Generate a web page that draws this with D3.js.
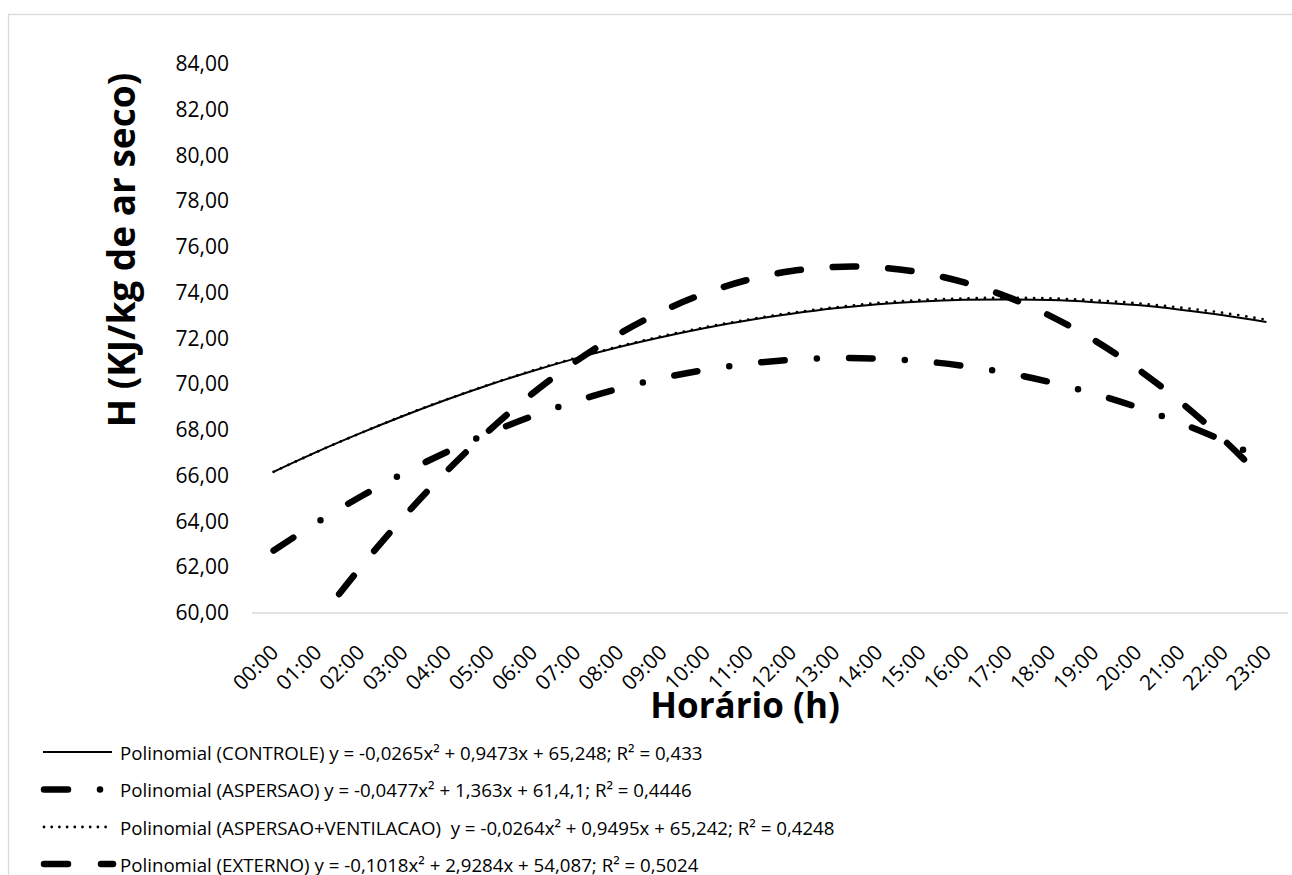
<!DOCTYPE html>
<html>
<head>
<meta charset="utf-8">
<script src="https://cdn.jsdelivr.net/npm/d3@7"></script>
<style>
  html, body { margin: 0; padding: 0; background: #fff; }
  svg { display: block; }
  text { font-family: "Open Sans", sans-serif; fill: #000; }
</style>
</head>
<body>
<svg id="chart" width="1292" height="875"></svg>
<script>
// ---- Data ----
const hours = ["00:00","01:00","02:00","03:00","04:00","05:00","06:00","07:00","08:00","09:00","10:00","11:00",
               "12:00","13:00","14:00","15:00","16:00","17:00","18:00","19:00","20:00","21:00","22:00","23:00"];
const yTicks = [60,62,64,66,68,70,72,74,76,78,80,82,84];

const controle = [66.17,67.04,67.85,68.61,69.32,69.98,70.58,71.13,71.63,72.07,72.46,72.80,
                  73.08,73.32,73.50,73.62,73.69,73.71,73.68,73.59,73.46,73.26,73.02,72.72];
const aspersao = [62.73,63.95,65.07,66.10,67.03,67.87,68.61,69.26,69.81,70.27,70.63,70.90,
                  71.07,71.14,71.12,71.01,70.80,70.49,70.09,69.59,69.00,68.31,67.53,66.65];
const aspersaoVentilacao = [66.17,67.04,67.85,68.62,69.33,69.99,70.60,71.15,71.65,72.10,72.49,72.83,
                  73.12,73.36,73.55,73.68,73.75,73.78,73.75,73.67,73.54,73.35,73.12,72.82];
const externo = [56.91,59.54,61.96,64.17,66.18,67.99,69.60,71.00,72.20,73.19,73.98,74.57,
                 74.95,75.13,75.11,74.88,74.45,73.82,72.98,71.94,70.69,69.24,67.59,65.73];

const legendLabels = [
  "Polinomial (CONTROLE) y = -0,0265x\u00B2 + 0,9473x + 65,248; R\u00B2 = 0,433",
  "Polinomial (ASPERSAO) y = -0,0477x\u00B2 + 1,363x + 61,4,1; R\u00B2 = 0,4446",
  "Polinomial (ASPERSAO+VENTILACAO)  y = -0,0264x\u00B2 + 0,9495x + 65,242; R\u00B2 = 0,4248",
  "Polinomial (EXTERNO) y = -0,1018x\u00B2 + 2,9284x + 54,087; R\u00B2 = 0,5024"
];

// ---- Styles ----
const styles = [
  { data: controle, width: 2, dash: null, cap: "butt" },
  { data: aspersao, width: 6.5, dash: "23.5 32.25 0 32.25", cap: "round" },
  { data: aspersaoVentilacao, width: 2.8, dash: "0 8.2", cap: "round" },
  { data: externo, width: 6.5, dash: "23.5 32", cap: "round" }
];

const svg = d3.select("#chart");
const plot = { left: 252, right: 1288, top: 40, bottom: 613 };

// chart border
svg.append("rect").attr("x", 8.5).attr("y", 14.5).attr("width", 1300).attr("height", 900)
  .attr("fill", "#fff").attr("stroke", "#d9d9d9").attr("stroke-width", 1.3);

const x = d3.scalePoint().domain(hours).range([plot.left, plot.right]).padding(0.5);
const y = d3.scaleLinear().domain([60, 84]).range([613, 64]);

// clip
svg.append("clipPath").attr("id", "plotclip").append("rect")
  .attr("x", plot.left).attr("y", 0).attr("width", plot.right - plot.left).attr("height", plot.bottom);

// Y axis labels
const yAxis = d3.axisLeft(y).tickValues(yTicks).tickSize(0).tickPadding(0)
  .tickFormat(d => d3.format(".2f")(d).replace(".", ","));
const gy = svg.append("g").attr("transform", "translate(229,0)").call(yAxis);
gy.select(".domain").remove();
gy.selectAll("text").attr("font-family", "Open Sans, sans-serif").attr("font-size", 21).attr("fill", "#000");

// X axis
const xAxis = d3.axisBottom(x).tickSize(0).tickPadding(0);
const gx = svg.append("g").attr("transform", `translate(0,${plot.bottom})`).call(xAxis);
gx.select(".domain").attr("stroke", "#d9d9d9").attr("stroke-width", 1.5)
  .attr("d", `M${plot.left},0H${plot.right}`);
gx.selectAll("text")
  .attr("font-family", "Open Sans, sans-serif").attr("font-size", 21).attr("fill", "#000")
  .attr("text-anchor", "end").attr("dy", null).attr("y", 0)
  .attr("dominant-baseline", "central")
  .attr("transform", "translate(0,35) rotate(-45)");

// Lines
const line = d3.line().x((d, i) => x(hours[i])).y(d => y(d)).curve(d3.curveNatural);
const g = svg.append("g").attr("clip-path", "url(#plotclip)");
styles.forEach(s => {
  g.append("path").datum(s.data).attr("d", line)
    .attr("fill", "none").attr("stroke", "#000")
    .attr("stroke-width", s.width)
    .attr("stroke-dasharray", s.dash)
    .attr("stroke-linecap", s.cap);
});

// Axis titles
svg.append("text").attr("transform", "translate(135,250) rotate(-90)")
  .attr("text-anchor", "middle").attr("font-weight", "bold").attr("font-size", 37)
  .text("H (KJ/kg de ar seco)");
svg.append("text").attr("x", 745).attr("y", 718)
  .attr("text-anchor", "middle").attr("font-weight", "bold").attr("font-size", 35)
  .text("Horário (h)");

// Legend
const legY = [752, 789.5, 827, 864];
const lg = svg.append("g");
styles.forEach((s, i) => {
  const yy = legY[i];
  if (i === 0) {
    lg.append("line").attr("x1", 43).attr("x2", 112).attr("y1", yy).attr("y2", yy)
      .attr("stroke", "#000").attr("stroke-width", 2);
  } else if (i === 1) {
    lg.append("line").attr("x1", 44).attr("x2", 68).attr("y1", yy).attr("y2", yy)
      .attr("stroke", "#000").attr("stroke-width", 6.5).attr("stroke-linecap", "round");
    lg.append("circle").attr("cx", 100).attr("cy", yy).attr("r", 3.25).attr("fill", "#000");
  } else if (i === 2) {
    lg.append("line").attr("x1", 44).attr("x2", 112).attr("y1", yy).attr("y2", yy)
      .attr("stroke", "#000").attr("stroke-width", 2.8).attr("stroke-dasharray", "0 7.7")
      .attr("stroke-linecap", "round");
  } else {
    lg.append("line").attr("x1", 44).attr("x2", 68).attr("y1", yy).attr("y2", yy)
      .attr("stroke", "#000").attr("stroke-width", 6.5).attr("stroke-linecap", "round");
    lg.append("line").attr("x1", 101).attr("x2", 113).attr("y1", yy).attr("y2", yy)
      .attr("stroke", "#000").attr("stroke-width", 6.5).attr("stroke-linecap", "round");
  }
  lg.append("text").attr("x", 120).attr("y", yy).attr("dominant-baseline", "central")
    .attr("font-size", 18.7).style("white-space", "pre").text(legendLabels[i]);
});
</script>
</body>
</html>
